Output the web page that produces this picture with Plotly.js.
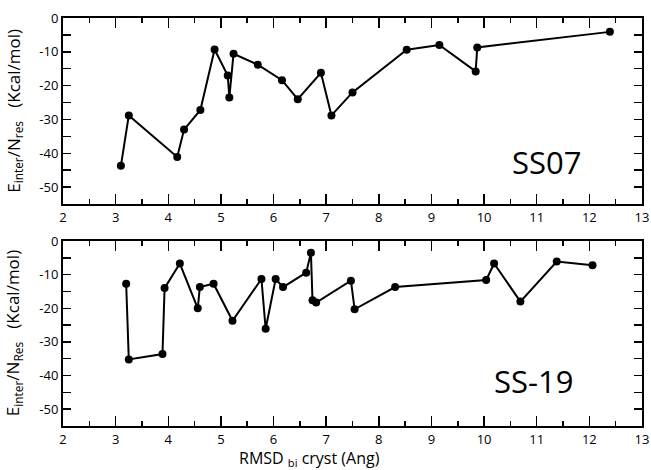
<!DOCTYPE html>
<html>
<head>
<meta charset="utf-8">
<script src="https://cdn.plot.ly/plotly-3.0.1.min.js"></script>
<style>html,body{margin:0;padding:0;background:#fff;}#chart{width:651px;height:470px;}</style>
</head>
<body>
<div id="chart"></div>
<script>
// SS07 panel
const ss07_rmsd = [3.10, 3.25, 4.17, 4.30, 4.61, 4.88, 5.13, 5.16, 5.24, 5.70, 6.16, 6.46, 6.90, 7.10, 7.50, 8.53, 9.15, 9.84, 9.87, 12.39];
const ss07_energy = [-43.7, -28.8, -41.1, -33.0, -27.2, -9.3, -17.0, -23.5, -10.6, -13.8, -18.4, -24.0, -16.2, -28.8, -22.0, -9.4, -8.0, -15.8, -8.7, -4.1];
// SS-19 panel
const ss19_rmsd = [3.20, 3.25, 3.89, 3.93, 4.22, 4.56, 4.60, 4.86, 5.22, 5.77, 5.85, 6.04, 6.18, 6.62, 6.71, 6.74, 6.81, 7.47, 7.54, 8.31, 10.04, 10.19, 10.69, 11.38, 12.06];
const ss19_energy = [-12.7, -35.2, -33.6, -14.0, -6.7, -20.0, -13.7, -12.7, -23.7, -11.3, -26.1, -11.3, -13.7, -9.4, -3.5, -17.6, -18.3, -11.8, -20.3, -13.7, -11.6, -6.7, -18.0, -6.1, -7.2];

const xTicks = [2, 3, 4, 5, 6, 7, 8, 9, 10, 11, 12, 13];
const yTicks = [0, -10, -20, -30, -40, -50];
const yTickText = ['0', '-10', '-20', '-30', '-40', '-50'];
const panelLabels = ['SS07', 'SS-19'];

const FONT = '"Open Sans", "DejaVu Sans", sans-serif';

const lineStyle = {color: '#000', width: 2};
const markerStyle = {color: '#000', size: 8};

const traces = [
  {x: ss07_rmsd, y: ss07_energy, xaxis: 'x', yaxis: 'y', mode: 'lines+markers', line: lineStyle, marker: markerStyle, showlegend: false},
  {x: ss19_rmsd, y: ss19_energy, xaxis: 'x2', yaxis: 'y2', mode: 'lines+markers', line: lineStyle, marker: markerStyle, showlegend: false}
];

function xAxis(anchor) {
  return {
    anchor: anchor, domain: [0, 1], range: [2, 13],
    tickmode: 'array', tickvals: xTicks, ticktext: xTicks.map(String),
    ticks: 'inside', ticklen: 10, tickwidth: 1.5, tickcolor: '#000',
    minor: {dtick: 0.5, tick0: 2, ticklen: 5, tickwidth: 1.5, tickcolor: '#000', ticks: 'inside'},
    showline: true, linewidth: 2, linecolor: '#000', mirror: 'ticks',
    showgrid: false, zeroline: false,
    tickfont: {family: FONT, size: 13, color: '#000'}
  };
}
function yAxis(anchor, domain) {
  return {
    anchor: anchor, domain: domain, range: [-55, 0],
    tickmode: 'array', tickvals: yTicks, ticktext: yTickText,
    ticks: 'inside', ticklen: 8, tickwidth: 1.5, tickcolor: '#000',
    minor: {dtick: 5, tick0: 0, ticklen: 8, tickwidth: 1.5, tickcolor: '#000', ticks: 'inside'},
    showline: true, linewidth: 2, linecolor: '#000', mirror: 'ticks',
    showgrid: false, zeroline: false,
    tickfont: {family: FONT, size: 13, color: '#000'}
  };
}

const layout = {
  width: 651, height: 470,
  margin: {l: 63, r: 9, t: 18, b: 44},
  paper_bgcolor: '#fff', plot_bgcolor: '#fff',
  font: {family: FONT, color: '#000'},
  showlegend: false,
  xaxis: xAxis('y'),
  yaxis: yAxis('x', [0.5441, 1]),
  xaxis2: xAxis('y2'),
  yaxis2: yAxis('x2', [0, 0.4534]),
  annotations: [
    {xref: 'x', yref: 'y', x: 10.5, y: -42.5, text: panelLabels[0], showarrow: false, xanchor: 'left', yanchor: 'middle', font: {family: FONT, size: 31, color: '#000'}},
    {xref: 'x2', yref: 'y2', x: 10.15, y: -41.5, text: panelLabels[1], showarrow: false, xanchor: 'left', yanchor: 'middle', font: {family: FONT, size: 31, color: '#000'}},
    {xref: 'paper', yref: 'paper', x: -0.085, y: 0.772, text: 'E<sub>inter</sub>/N<sub>res</sub>   (Kcal/mol)', textangle: -90, showarrow: false, xanchor: 'center', yanchor: 'middle', font: {family: FONT, size: 17, color: '#000'}},
    {xref: 'paper', yref: 'paper', x: -0.085, y: 0.227, text: 'E<sub>inter</sub>/N<sub>Res</sub>   (Kcal/mol)', textangle: -90, showarrow: false, xanchor: 'center', yanchor: 'middle', font: {family: FONT, size: 17, color: '#000'}},
    {xref: 'paper', yref: 'paper', x: 0.425, y: -0.05, borderpad: 0, text: 'RMSD <sub>bi</sub> cryst (Ang)', showarrow: false, xanchor: 'center', yanchor: 'top', font: {family: FONT, size: 16, color: '#000'}}
  ]
};

Plotly.newPlot('chart', traces, layout, {displayModeBar: false, staticPlot: true});
</script>
</body>
</html>
